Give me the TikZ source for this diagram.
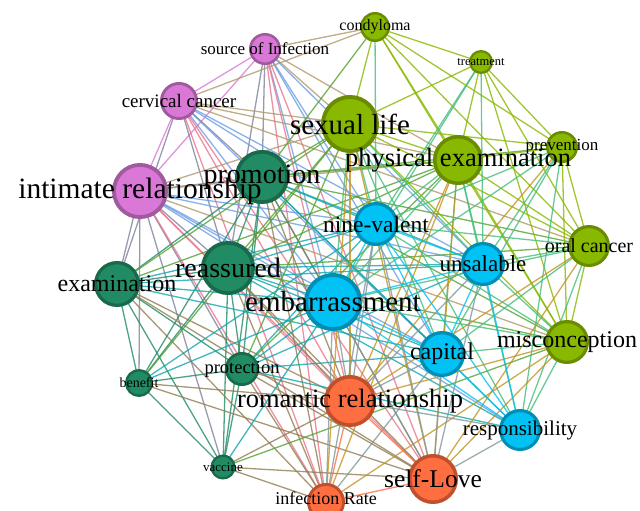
\documentclass[tikz,border=0pt]{standalone}
\usepackage{fontspec}
\setmainfont{Liberation Serif}
\pgfdeclarelayer{edges}
\pgfsetlayers{edges,main}
\definecolor{puF}{HTML}{D978D6}
\definecolor{puD}{HTML}{A05A9E}
\definecolor{dgF}{HTML}{218B64}
\definecolor{dgD}{HTML}{186A4B}
\definecolor{lgF}{HTML}{88B800}
\definecolor{lgD}{HTML}{6A8C00}
\definecolor{blF}{HTML}{00C2F4}
\definecolor{blD}{HTML}{008FB4}
\definecolor{orF}{HTML}{FF6E40}
\definecolor{orD}{HTML}{C0502C}
\newcommand\setcls[2]{\expandafter\def\csname ncls#1\endcsname{#2}}
\newcommand\edg[2]{\edef\edgcol{\csname ncls#1\endcsname F!50!\csname ncls#2\endcsname F}\colorlet{ec}{\edgcol}\draw[edgeline,draw=ec] (#1) -- (#2);}
\newcommand\edgs[2]{\foreach \tg in {#2}{\edg{#1}{\tg}}}
\newcommand\nd[5]{\setcls{#1}{#5}\pgfmathsetmacro\nlw{1+#4/10}\node[#5node,line width=\nlw pt,minimum size=2*#4pt-\nlw pt] (#1) at (#2,#3) {};}
\newcommand\lb[4][0]{\node[lbl,font=\fontsize{#3}{#3}\selectfont] (#2-t) at ([yshift=#1pt]#2.center) {#4};}
\tikzset{
  circ/.style={circle,inner sep=0pt,outer sep=0pt},
  punode/.style={circ,fill=puF,draw=puD},
  dgnode/.style={circ,fill=dgF,draw=dgD},
  lgnode/.style={circ,fill=lgF,draw=lgD},
  blnode/.style={circ,fill=blF,draw=blD},
  ornode/.style={circ,fill=orF,draw=orD},
  lbl/.style={inner sep=0pt,text=black},
  edgeline/.style={line width=1.3pt,draw opacity=0.8}
}
\begin{document}
\begin{tikzpicture}[x=1pt,y=-1pt]
\useasboundingbox (0,0) rectangle (640,511);
% nodes
\nd{soi}{265}{49}{16}{pu}
\nd{cc}{179}{101}{19}{pu}
\nd{ir}{140}{191}{28}{pu}
\nd{promo}{262}{177}{27}{dg}
\nd{reas}{228}{268}{27}{dg}
\nd{exam}{117}{284}{23}{dg}
\nd{prot}{242}{369}{17}{dg}
\nd{ben}{139}{383}{14}{dg}
\nd{vac}{223}{467}{12.5}{dg}
\nd{cond}{375}{27}{15}{lg}
\nd{treat}{481}{62}{12}{lg}
\nd{sex}{350}{124}{29}{lg}
\nd{phys}{458}{160}{25}{lg}
\nd{prev}{562}{147}{16}{lg}
\nd{oral}{589}{246}{21}{lg}
\nd{misc}{567}{342}{22}{lg}
\nd{nine}{376}{224}{22}{bl}
\nd{unsal}{483}{264}{22}{bl}
\nd{emb}{333}{302}{29}{bl}
\nd{cap}{442}{354}{23}{bl}
\nd{resp}{520}{430}{21}{bl}
\nd{rom}{350}{401}{26}{or}
\nd{self}{433}{479}{25}{or}
\nd{inf}{326}{502}{19}{or}
% edges
\begin{pgfonlayer}{edges}
\edgs{soi}{cc,ir,cond,sex,promo,reas,nine,emb,unsal,rom,self,inf,phys,cap}
\edgs{cc}{ir,cond,sex,phys,promo,reas,exam,nine,emb,unsal,rom,self,inf,cap,oral}
\edgs{ir}{promo,reas,exam,ben,vac,prot,sex,phys,nine,emb,unsal,cap,resp,rom,self,inf,misc}
\edgs{promo}{reas,exam,prot,ben,vac,sex,phys,prev,nine,emb,unsal,cap,resp,rom,self,inf,oral,misc,cond}
\edgs{reas}{exam,prot,ben,vac,sex,phys,nine,emb,unsal,cap,resp,rom,self,inf,misc,oral}
\edgs{exam}{prot,ben,vac,sex,phys,nine,emb,unsal,cap,rom,self,inf}
\edgs{prot}{ben,vac,sex,phys,nine,emb,unsal,cap,resp,rom,self,inf}
\edgs{ben}{vac,nine,emb,rom,self,sex}
\edgs{vac}{emb,rom,self,inf,misc}
\edgs{cond}{sex,phys,treat,prev,oral,misc,nine}
\edgs{treat}{sex,phys,prev,oral,misc,nine,unsal,emb}
\edgs{sex}{phys,prev,oral,misc,nine,unsal,emb,cap,resp,rom,self,inf}
\edgs{phys}{prev,oral,misc,nine,unsal,emb,cap,resp,rom,self,inf}
\edgs{prev}{oral,misc,nine,unsal,emb,cap,resp,rom}
\edgs{oral}{misc,nine,emb,unsal,cap,resp,rom,self}
\edgs{misc}{nine,emb,unsal,cap,resp,rom,self,inf}
\edgs{nine}{unsal,emb,cap,resp,rom,self,inf}
\edgs{unsal}{emb,cap,resp,rom,self}
\edgs{emb}{cap,resp,rom,self,inf}
\edgs{cap}{resp,rom,self,inf}
\edgs{resp}{rom,self}
\edgs{rom}{self,inf}
\edgs{self}{inf}
\end{pgfonlayer}
% labels
\lb{soi}{17}{source of Infection}
\lb{cc}{19}{cervical cancer}
\lb{ir}{29.5}{intimate relationship}
\lb{promo}{28}{promotion}
\lb{reas}{28}{reassured}
\lb{exam}{24}{examination}
\lb{prot}{18.5}{protection}
\lb{ben}{14}{benefit}
\lb{vac}{13}{vaccine}
\lb{cond}{16}{condyloma}
\lb{treat}{12.5}{treatment}
\lb{sex}{29}{sexual life}
\lb{phys}{26.5}{physical examination}
\lb{prev}{17}{prevention}
\lb{oral}{20}{oral cancer}
\lb{misc}{24}{misconception}
\lb{nine}{23.5}{nine-valent}
\lb{unsal}{23}{unsalable}
\lb{emb}{29}{embarrassment}
\lb{cap}{24}{capital}
\lb{resp}{21}{responsibility}
\lb{rom}{26.5}{romantic relationship}
\lb{self}{25.5}{self-Love}
\lb[4]{inf}{18}{infection Rate}
\end{tikzpicture}
\end{document}
